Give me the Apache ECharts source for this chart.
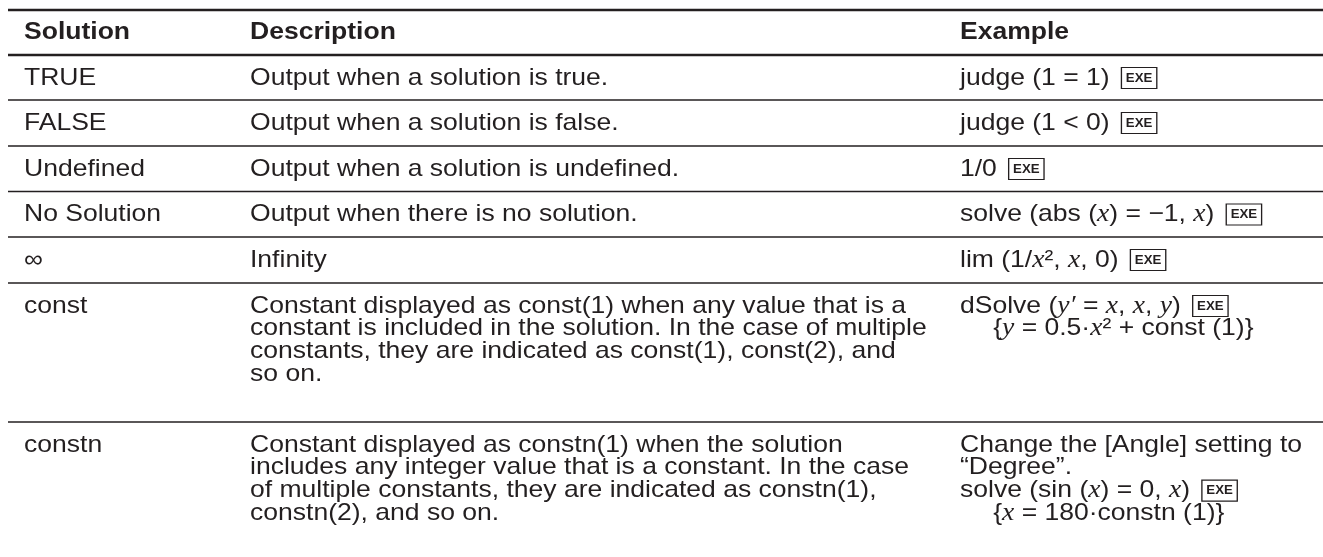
<!DOCTYPE html>
<html>
<head>
<meta charset="utf-8">
<script src="https://cdn.jsdelivr.net/npm/echarts@6/dist/echarts.min.js"></script>
<style>html,body{margin:0;padding:0;background:#fff}#c{width:1323px;height:557px}</style>
</head>
<body>
<div id="c"></div>
<script>
// ---- data ----
const headers = ['Solution', 'Description', 'Example'];
const solutions = ['TRUE', 'FALSE', 'Undefined', 'No Solution', '\u221E', 'const', 'constn'];
const descriptions = [
  ['Output when a solution is true.'],
  ['Output when a solution is false.'],
  ['Output when a solution is undefined.'],
  ['Output when there is no solution.'],
  ['Infinity'],
  ['Constant displayed as const(1) when any value that is a',
   'constant is included in the solution. In the case of multiple',
   'constants, they are indicated as const(1), const(2), and',
   'so on.'],
  ['Constant displayed as constn(1) when the solution',
   'includes any integer value that is a constant. In the case',
   'of multiple constants, they are indicated as constn(1),',
   'constn(2), and so on.']
];
const examples = [
  ['judge (1 = 1) {exe|EXE}'],
  ['judge (1 < 0) {exe|EXE}'],
  ['1/0 {exe|EXE}'],
  ['solve (abs ({i|x}) = \u22121, {i|x}) {exe|EXE}'],
  ['lim (1/{i|x}\u00B2, {i|x}, 0) {exe|EXE}'],
  ['dSolve ({i|y\u2032} = {i|x}, {i|x}, {i|y}) {exe|EXE}',
   '\u2003\u2005{{i|y} = 0.5\u00B7{i|x}\u00B2 + const (1)}'],
  ['Change the [Angle] setting to',
   '\u201CDegree\u201D.',
   'solve (sin ({i|x}) = 0, {i|x}) {exe|EXE}',
   '\u2003\u2005{{i|x} = 180\u00B7constn (1)}']
];

// ---- layout / style ----
const W = 1323;
const INK = '#231f20';
const FONT = '"Liberation Sans", Arial, Helvetica, sans-serif';
const FS = 24;
const SX = 1.105;
const colX = [24, 250, 960];
const lineX0 = 8;
const topRule = 10, headRule = 55;
const rowBottoms = [100, 146, 191.5, 237, 283, 422, 580];
const firstLineOffset = 23;
const lineGap = 22.8;

const rich = {
  i: { fontFamily: '"Liberation Serif", "Times New Roman", serif', fontStyle: 'italic', fontSize: FS + 1, fill: INK },
  exe: { fontFamily: '"Liberation Sans Narrow", "Liberation Sans", sans-serif', fontWeight: 'bold', fontSize: 12,
         fill: INK, borderColor: INK, borderWidth: 1.2, padding: [5, 4, 4, 4] },
  gap: { width: 4 }
};

const elements = [];
function rule(y, w) {
  elements.push({ type: 'line', shape: { x1: lineX0, y1: y, x2: W, y2: y },
    style: { stroke: INK, lineWidth: w }, silent: true });
}
function txt(x, y, s, bold) {
  elements.push({ type: 'text', x: x, y: y, scaleX: SX, silent: true,
    style: { text: s.replace(' {exe|', ' {gap| }{exe|'), fontFamily: FONT, fontSize: FS,
             fontWeight: bold ? 'bold' : 'normal',
             fill: INK, verticalAlign: 'middle', align: 'left', rich: rich } });
}

rule(topRule, 2.5);
rule(headRule, 2.5);
headers.forEach((h, c) => txt(colX[c], (topRule + headRule) / 2, h, true));

let rowTop = headRule;
solutions.forEach((s, r) => {
  const bottom = rowBottoms[r];
  const y0 = rowTop + firstLineOffset;
  txt(colX[0], y0, s, false);
  descriptions[r].forEach((d, k) => txt(colX[1], y0 + k * lineGap, d, false));
  examples[r].forEach((e, k) => txt(colX[2], y0 + k * lineGap, e, false));
  if (bottom < 557) rule(bottom, 1.5);
  rowTop = bottom;
});

const chart = echarts.init(document.getElementById('c'), null, { renderer: 'canvas' });
chart.setOption({ backgroundColor: '#fff', animation: false, graphic: { elements: elements } });
</script>
</body>
</html>
